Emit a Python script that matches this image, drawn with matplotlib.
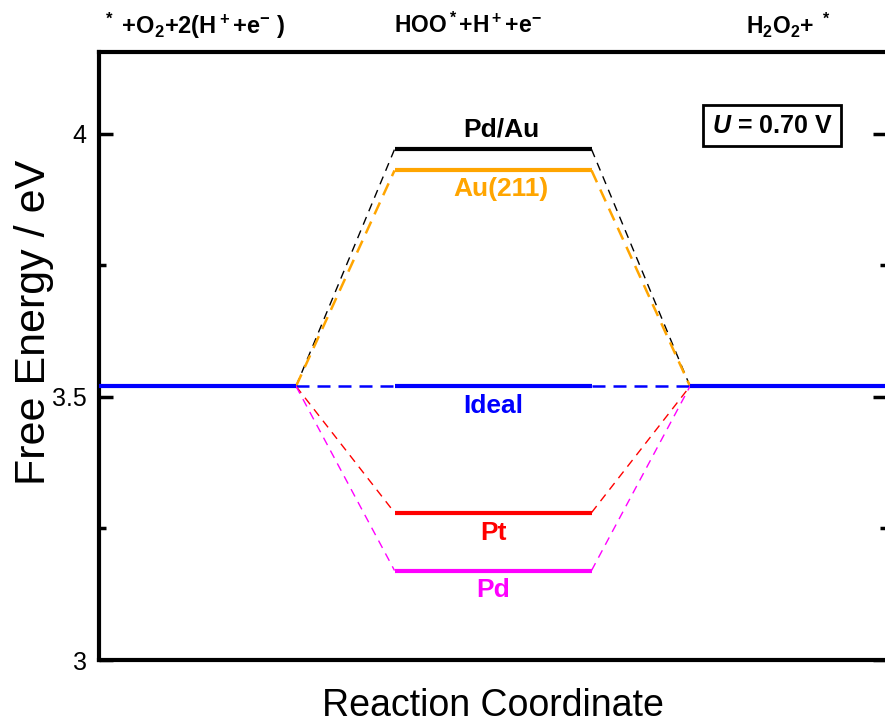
import matplotlib.pyplot as plt
from matplotlib.ticker import MultipleLocator

plt.rcParams['font.family'] = ['Liberation Sans', 'DejaVu Sans']
plt.rcParams['mathtext.fontset'] = 'custom'
plt.rcParams['mathtext.rm'] = 'Liberation Sans:bold'
plt.rcParams['mathtext.bf'] = 'Liberation Sans:bold'
plt.rcParams['mathtext.it'] = 'Liberation Sans:bold:italic'

# free energy levels (eV) at U = 0.70 V
states = [r'$^*$ +O$_2$+2(H$^+$+e$^{-}$ )', r'HOO$^*$+H$^+$+e$^{-}$', r'H$_2$O$_2$+ $^*$']
catalysts = ['Pd/Au', 'Au(211)', 'Ideal', 'Pt', 'Pd']
e_start = 3.52
e_mid = [3.97, 3.93, 3.52, 3.28, 3.17]
e_end = 3.52
colors = ['#000000', '#FFA500', '#0000FF', '#FF0000', '#FF00FF']

# x extent of each state plateau
plateaus = [(0, 1), (1.5, 2.5), (3, 4)]

fig = plt.figure(figsize=(8.85, 7.26), dpi=100)
ax = fig.add_axes([0.1119, 0.0909, 0.8904, 0.8375])

ax.plot(plateaus[0], [e_start, e_start], color='#0000FF', lw=3, solid_capstyle='butt', zorder=5)
ax.plot(plateaus[2], [e_end, e_end], color='#0000FF', lw=3, solid_capstyle='butt', zorder=5)

for name, e, c in zip(catalysts, e_mid, colors):
    ax.plot(plateaus[1], [e, e], color=c, lw=3, solid_capstyle='butt', zorder=4)
    if name in ('Ideal', 'Au(211)'):
        lw, dash = 1.8, (5.2, 3.2)
    else:
        lw, dash = 1.0, (6, 4.5)
    ax.plot([plateaus[0][1], plateaus[1][0]], [e_start, e], color=c, lw=lw,
            ls=(0, dash), zorder=3)
    ax.plot([plateaus[1][1], plateaus[2][0]], [e, e_end], color=c, lw=lw,
            ls=(0, dash), zorder=3)
    if name == 'Pd/Au':
        ax.text(2.04, e + 0.015, name, color=c, fontsize=19, fontweight='bold',
                ha='center', va='bottom')
    elif name == 'Au(211)':
        ax.text(2.04, e - 0.012, name, color=c, fontsize=19, fontweight='bold',
                ha='center', va='top')
    else:
        ax.text(2.0, e - 0.015, name, color=c, fontsize=19, fontweight='bold',
                ha='center', va='top')

for x, s, fs in zip([0.48, 1.87, 3.5], states, [17, 16.5, 16.5]):
    ax.annotate(s, xy=(x, 1.0), xycoords=('data', 'axes fraction'),
                xytext=(0, 19), textcoords='offset points',
                ha='center', va='center', fontsize=fs, fontweight='bold')

ax.text(3.416, 4.015, r'$U$ = 0.70 V', fontsize=18, fontweight='bold',
        ha='center', va='center',
        bbox=dict(boxstyle='square,pad=0.35', fc='white', ec='black', lw=2))

ax.set_xlim(0, 4)
ax.set_ylim(3, 4.155)
ax.set_xticks([])
ax.yaxis.set_minor_locator(MultipleLocator(0.25))
ax.set_yticks([3, 3.5, 4])
ax.set_yticklabels(['3', '3.5', '4'])
ax.tick_params(axis='y', which='both', direction='in', right=True, width=2.5,
               labelsize=18, pad=9)
ax.tick_params(axis='y', which='major', length=10)
ax.tick_params(axis='y', which='minor', length=5)
for sp in ax.spines.values():
    sp.set_linewidth(3)

ax.set_ylabel('Free Energy / eV', fontsize=31)
ax.yaxis.set_label_coords(-0.057, 0.556)
ax.set_xlabel('Reaction Coordinate', fontsize=27, labelpad=20)

fig.savefig('out.png', dpi=100)
